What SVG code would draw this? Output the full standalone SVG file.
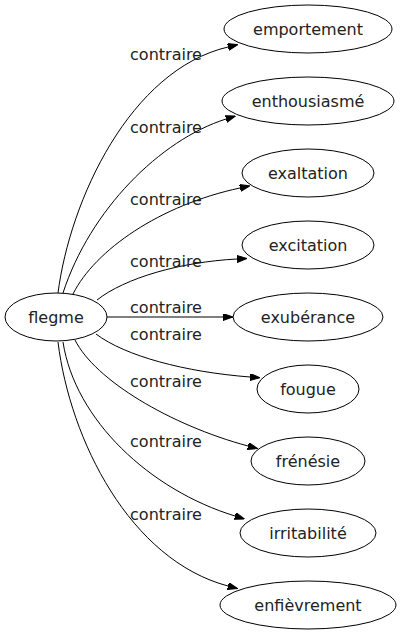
<svg xmlns="http://www.w3.org/2000/svg" width="401" height="635" viewBox="0 0 401 635">
<style>
.node ellipse{fill:none;stroke:#000;stroke-width:1}
.node text{font-family:"DejaVu Sans",sans-serif;font-size:16px;fill:#222;text-anchor:middle}
.edges path{fill:none;stroke:#000;stroke-width:1;marker-end:url(#arr)}
.lbl{font-family:"DejaVu Sans",sans-serif;font-size:16px;fill:#222;text-anchor:middle}
</style>
<defs>
<marker id="arr" markerUnits="userSpaceOnUse" markerWidth="10" markerHeight="8" refX="0" refY="3.5" orient="auto">
<path d="M0,0 L10,3.5 L0,7 z" fill="#000" stroke="#000" stroke-width="1"/>
</marker>
</defs>
<rect width="401" height="635" fill="#fff"/>
<g class="edges">
<path d="M58,293 C70,200 130,70 228,47"/>
<path d="M63,293 C90,210 160,140 226,119"/>
<path d="M73,294 C95,250 160,205 240,188"/>
<path d="M97,300 C125,278 180,262 237,259"/>
<path d="M107,317 L223,317"/>
<path d="M96,334 C125,356 185,372 250,377"/>
<path d="M75,340 C95,380 170,425 248,446"/>
<path d="M63,342 C75,420 150,490 235,516"/>
<path d="M58,342 C70,440 130,560 228,586"/>
<text class="lbl" x="166" y="60">contraire</text>
<text class="lbl" x="166" y="133">contraire</text>
<text class="lbl" x="166" y="205">contraire</text>
<text class="lbl" x="166" y="267">contraire</text>
<text class="lbl" x="166" y="313">contraire</text>
<text class="lbl" x="166" y="340">contraire</text>
<text class="lbl" x="166" y="387">contraire</text>
<text class="lbl" x="166" y="447">contraire</text>
<text class="lbl" x="166" y="520">contraire</text>
</g>
<g class="node" id="flegme"><ellipse cx="56" cy="317" rx="51" ry="24"/><text x="56" y="323">flegme</text></g>
<g class="node" id="emportement"><ellipse cx="308" cy="29" rx="84" ry="24"/><text x="308" y="35">emportement</text></g>
<g class="node" id="enthousiasme"><ellipse cx="308" cy="101" rx="86" ry="24"/><text x="308" y="107">enthousiasmé</text></g>
<g class="node" id="exaltation"><ellipse cx="308" cy="173" rx="66" ry="24"/><text x="308" y="179">exaltation</text></g>
<g class="node" id="excitation"><ellipse cx="308" cy="245" rx="66" ry="24"/><text x="308" y="251">excitation</text></g>
<g class="node" id="exuberance"><ellipse cx="308" cy="317" rx="75" ry="24"/><text x="308" y="323">exubérance</text></g>
<g class="node" id="fougue"><ellipse cx="308" cy="389" rx="51" ry="24"/><text x="308" y="395">fougue</text></g>
<g class="node" id="frenesie"><ellipse cx="308" cy="461" rx="57" ry="24"/><text x="308" y="467">frénésie</text></g>
<g class="node" id="irritabilite"><ellipse cx="308" cy="533" rx="68" ry="24"/><text x="308" y="539">irritabilité</text></g>
<g class="node" id="enfievrement"><ellipse cx="308" cy="605" rx="88" ry="24"/><text x="308" y="611">enfièvrement</text></g>
</svg>
